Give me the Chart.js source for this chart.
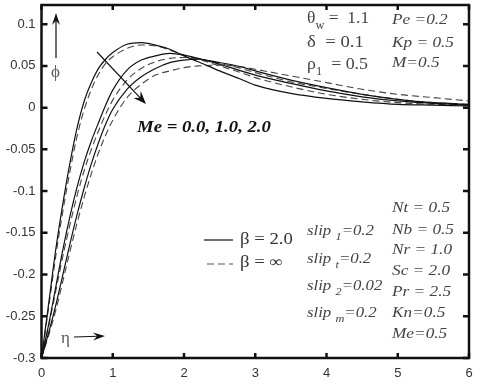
<!DOCTYPE html>
<html>
<head>
<meta charset="utf-8">
<script src="https://cdn.jsdelivr.net/npm/chart.js@4.4.1/dist/chart.umd.min.js"></script>
<style>
  html, body { margin: 0; padding: 0; background: #fff; }
  #wrap { width: 480px; height: 384px; }
</style>
</head>
<body>
<div id="wrap"><canvas id="myChart" width="480" height="384"></canvas></div>
<script>
// eta grid (x values)
const eta = [0, 0.1, 0.2, 0.3, 0.4, 0.5, 0.6, 0.7, 0.8, 0.9, 1.0, 1.2, 1.4, 1.6, 1.8, 2.0, 2.2, 2.5, 2.8, 3.0, 3.5, 4.0, 4.5, 5.0, 5.5, 6.0];

// beta = 2.0 (solid), Me = 0, 1, 2
const solidMe0 = [-0.300, -0.235, -0.170, -0.115, -0.066, -0.024, 0.008, 0.030, 0.047, 0.058, 0.066, 0.076, 0.078, 0.075, 0.070, 0.062, 0.055, 0.044, 0.034, 0.027, 0.017, 0.011, 0.007, 0.004, 0.003, 0.002];
const solidMe1 = [-0.300, -0.260, -0.215, -0.170, -0.130, -0.095, -0.065, -0.040, -0.018, 0.003, 0.021, 0.045, 0.057, 0.062, 0.065, 0.063, 0.059, 0.052, 0.044, 0.039, 0.029, 0.020, 0.013, 0.008, 0.005, 0.003];
const solidMe2 = [-0.300, -0.270, -0.237, -0.200, -0.163, -0.128, -0.096, -0.067, -0.042, -0.020, -0.002, 0.022, 0.037, 0.047, 0.054, 0.057, 0.058, 0.054, 0.049, 0.044, 0.033, 0.024, 0.016, 0.010, 0.006, 0.004];

// beta = infinity (dashed), Me = 0, 1, 2
const dashMe0 = [-0.300, -0.240, -0.178, -0.124, -0.076, -0.034, -0.002, 0.022, 0.040, 0.053, 0.061, 0.071, 0.075, 0.074, 0.069, 0.063, 0.058, 0.050, 0.042, 0.036, 0.025, 0.016, 0.010, 0.006, 0.004, 0.003];
const dashMe1 = [-0.300, -0.262, -0.220, -0.178, -0.140, -0.105, -0.075, -0.050, -0.028, -0.008, 0.009, 0.033, 0.047, 0.055, 0.059, 0.060, 0.058, 0.053, 0.047, 0.042, 0.031, 0.023, 0.016, 0.010, 0.006, 0.004];
const dashMe2 = [-0.300, -0.273, -0.243, -0.208, -0.172, -0.138, -0.107, -0.079, -0.054, -0.033, -0.015, 0.012, 0.028, 0.039, 0.044, 0.048, 0.050, 0.051, 0.049, 0.046, 0.038, 0.030, 0.022, 0.016, 0.012, 0.008];

const xTicks = [0, 1, 2, 3, 4, 5, 6];
const yTicks = [-0.3, -0.25, -0.2, -0.15, -0.1, -0.05, 0, 0.05, 0.1];

function pts(ys) {
    return ys.map((y, i) => ({ x: eta[i], y: y }));
}

function solid(ys) {
    return { data: pts(ys), borderColor: '#111', borderWidth: 1.2, pointRadius: 0, cubicInterpolationMode: 'monotone', fill: false };
}
function dashed(ys) {
    return { data: pts(ys), borderColor: '#444', borderWidth: 1.1, borderDash: [7, 4], pointRadius: 0, cubicInterpolationMode: 'monotone', fill: false };
}

// draw text made of pieces, some of them subscripts
function rich(ctx, x, y, parts, size, style, color, sx) {
    ctx.save();
    ctx.translate(x, y);
    ctx.scale(sx || 1, 1);
    ctx.fillStyle = color;
    ctx.textBaseline = 'middle';
    ctx.textAlign = 'left';
    let cx = 0;
    parts.forEach(p => {
        let sub = p[1] === 'sub';
        let fs = sub ? Math.round(size * 0.7) : size;
        ctx.font = style + ' ' + fs + 'px "Liberation Serif", "Times New Roman", serif';
        ctx.fillText(p[0], cx, sub ? size * 0.42 : 0);
        cx += ctx.measureText(p[0]).width;
    });
    ctx.restore();
}

function arrow(ctx, x1, y1, x2, y2, len, wid) {
    let a = Math.atan2(y2 - y1, x2 - x1);
    ctx.save();
    ctx.strokeStyle = '#111';
    ctx.fillStyle = '#111';
    ctx.lineWidth = 1.2;
    ctx.beginPath();
    ctx.moveTo(x1, y1);
    ctx.lineTo(x2 - Math.cos(a) * len * 0.6, y2 - Math.sin(a) * len * 0.6);
    ctx.stroke();
    ctx.translate(x2, y2);
    ctx.rotate(a);
    ctx.beginPath();
    ctx.moveTo(0, 0);
    ctx.lineTo(-len, -wid);
    ctx.lineTo(-len * 0.65, 0);
    ctx.lineTo(-len, wid);
    ctx.closePath();
    ctx.fill();
    ctx.restore();
}

const frame = {
    id: 'frame',
    afterDatasetsDraw(chart) {
        const ctx = chart.ctx;
        const a = chart.chartArea;
        const xs = chart.scales.x, ys = chart.scales.y;
        ctx.save();
        ctx.strokeStyle = '#111';
        ctx.lineWidth = 2.5;
        ctx.strokeRect(a.left, a.top, a.right - a.left, a.bottom - a.top);
        ctx.beginPath();
        xTicks.forEach(v => {
            let px = xs.getPixelForValue(v);
            ctx.moveTo(px, a.bottom); ctx.lineTo(px, a.bottom - 5);
            ctx.moveTo(px, a.top); ctx.lineTo(px, a.top + 5);
        });
        yTicks.forEach(v => {
            let py = ys.getPixelForValue(v);
            ctx.moveTo(a.left, py); ctx.lineTo(a.left + 6, py);
            ctx.moveTo(a.right, py); ctx.lineTo(a.right - 6, py);
        });
        ctx.stroke();
        ctx.restore();

        // annotations
        arrow(ctx, 97, 52, 146, 104, 13, 5);
        arrow(ctx, 56, 58, 56, 13, 12, 4);
        arrow(ctx, 74, 337, 105, 336, 12, 4);

        rich(ctx, 51, 73, [['ϕ']], 17, 'normal', '#555', 1);
        rich(ctx, 61, 339, [['η']], 17, 'normal', '#555', 1);

        rich(ctx, 137, 128, [['Me = 0.0, 1.0, 2.0']], 16, 'italic bold', '#111', 1.17);

        rich(ctx, 307, 19, [['θ'], ['w', 'sub'], [' =  1.1']], 17, 'normal', '#444', 1.03);
        rich(ctx, 307, 43, [['δ  = 0.1']], 17, 'normal', '#444', 1.1);
        rich(ctx, 307, 65, [['ρ'], ['1', 'sub'], ['  = 0.5']], 17, 'normal', '#444', 1.05);

        rich(ctx, 392, 20, [['Pe =0.2']], 15, 'italic', '#444', 1.15);
        rich(ctx, 392, 43, [['Kp = 0.5']], 15, 'italic', '#444', 1.15);
        rich(ctx, 392, 63, [['M=0.5']], 15, 'italic', '#444', 1.15);

        // legend
        ctx.save();
        ctx.lineWidth = 1.2;
        ctx.strokeStyle = '#111';
        ctx.beginPath(); ctx.moveTo(204, 240); ctx.lineTo(233, 240); ctx.stroke();
        ctx.strokeStyle = '#555';
        ctx.setLineDash([7, 4]);
        ctx.beginPath(); ctx.moveTo(207, 264); ctx.lineTo(233, 264); ctx.stroke();
        ctx.restore();
        rich(ctx, 240, 240, [['β = 2.0']], 16, 'normal', '#333', 1.17);
        rich(ctx, 240, 263, [['β = ∞']], 16, 'normal', '#333', 1.17);

        rich(ctx, 307, 231, [['slip '], ['1', 'sub'], ['=0.2']], 15, 'italic', '#444', 1.12);
        rich(ctx, 307, 259, [['slip '], ['t', 'sub'], ['=0.2']], 15, 'italic', '#444', 1.12);
        rich(ctx, 307, 286, [['slip '], ['2', 'sub'], ['=0.02']], 15, 'italic', '#444', 1.12);
        rich(ctx, 307, 313, [['slip '], ['m', 'sub'], ['=0.2']], 15, 'italic', '#444', 1.12);

        const right = ['Nt = 0.5', 'Nb = 0.5', 'Nr = 1.0', 'Sc = 2.0', 'Pr = 2.5', 'Kn=0.5', 'Me=0.5'];
        const ry = [208, 230, 250, 271, 292, 313, 334];
        right.forEach((t, i) => rich(ctx, 392, ry[i], [[t]], 15, 'italic', '#444', 1.15));
    }
};

let ctx = document.getElementById('myChart');

let lineGraph = new Chart(ctx, {
    type: 'line',
    data: {
        datasets: [solid(solidMe0), solid(solidMe1), solid(solidMe2), dashed(dashMe0), dashed(dashMe1), dashed(dashMe2)]
    },
    options: {
        responsive: false,
        devicePixelRatio: 1,
        animation: false,
        layout: { padding: { left: 0, right: 11, top: 5, bottom: 0 } },
        plugins: { legend: { display: false }, tooltip: { enabled: false } },
        scales: {
            x: {
                type: 'linear',
                min: 0, max: 6,
                grid: { display: false, drawTicks: false },
                border: { display: false },
                afterBuildTicks: s => { s.ticks = xTicks.map(v => ({ value: v })); },
                afterFit: s => { s.height = 26; s.paddingLeft = 0; s.paddingRight = 0; },
                ticks: { padding: 8, color: '#333', font: { family: '"Liberation Sans", Arial, sans-serif', size: 13 } }
            },
            y: {
                type: 'linear',
                min: -0.3, max: 0.123,
                grid: { display: false, drawTicks: false },
                border: { display: false },
                afterBuildTicks: s => { s.ticks = yTicks.map(v => ({ value: v })); },
                afterFit: s => { s.width = 41.5; s.paddingTop = 0; s.paddingBottom = 0; },
                ticks: {
                    padding: 6, color: '#333',
                    font: { family: '"Liberation Sans", Arial, sans-serif', size: 13 },
                    callback: v => String(Number(v.toFixed(2)))
                }
            }
        }
    },
    plugins: [frame]
});
</script>
</body>
</html>
